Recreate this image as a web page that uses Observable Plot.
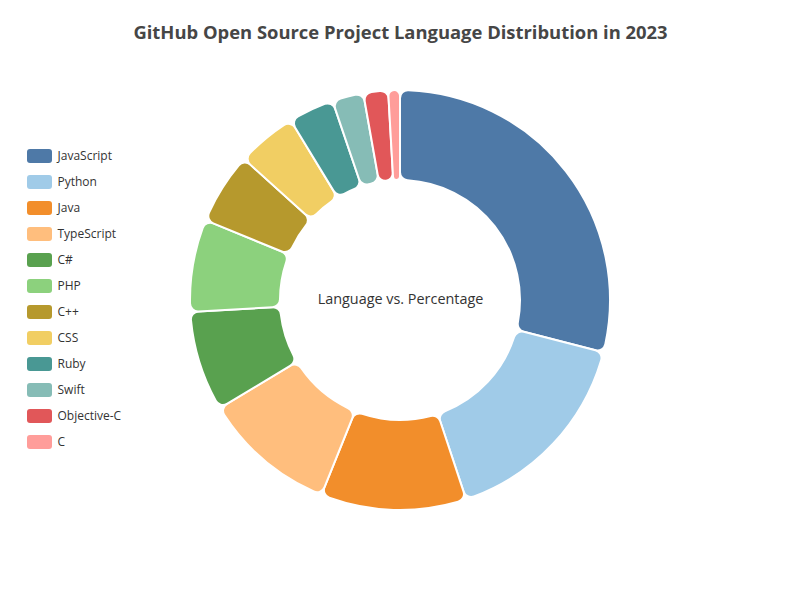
<!DOCTYPE html>
<html>
<head>
<meta charset="utf-8">
<script src="https://cdn.jsdelivr.net/npm/d3@7"></script>
<script src="https://cdn.jsdelivr.net/npm/@observablehq/plot@0.6"></script>
<style>
  html, body { margin: 0; padding: 0; background: #fff; }
  #chart svg { display: block; font-family: "Open Sans", "Noto Sans", sans-serif; }
</style>
</head>
<body>
<div id="chart"></div>
<script>
const title = "GitHub Open Source Project Language Distribution in 2023";
const centerLabel = "Language vs. Percentage";
const languages = ["JavaScript", "Python", "Java", "TypeScript", "C#", "PHP", "C++", "CSS", "Ruby", "Swift", "Objective-C", "C"];
const percentages = [29.0, 15.9, 11.2, 10.3, 7.7, 7.1, 5.5, 4.6, 3.5, 2.4, 1.9, 0.9];
const colors = ["#4e79a7", "#a0cbe8", "#f28e2b", "#ffbe7d", "#59a14f", "#8cd17d", "#b6992d", "#f1ce63", "#499894", "#86bcb6", "#e15759", "#ff9d9a"];

const data = languages.map((language, i) => ({language, value: percentages[i], i}));

const cx = 400, cy = 300, innerR = 120, outerR = 210;

function donut(index, scales, values, dimensions) {
  const px = scales.x(cx), py = scales.y(cy);
  const pie = d3.pie().sort(null).value(d => d.value).startAngle(0).endAngle(2 * Math.PI);
  const arc = d3.arc().innerRadius(innerR).outerRadius(outerR).cornerRadius(8);
  const g = d3.create("svg:g").attr("transform", `translate(${px},${py})`);
  g.selectAll("path")
    .data(pie(data))
    .join("path")
    .attr("d", arc)
    .attr("fill", d => scales.color(d.data.language))
    .attr("stroke", "#fff")
    .attr("stroke-width", 2)
    .attr("stroke-linejoin", "round");
  return g.node();
}

const chart = Plot.plot({
  width: 800,
  height: 600,
  margin: 0,
  x: {domain: [0, 800], range: [0, 800], axis: null},
  y: {domain: [0, 600], range: [0, 600], axis: null},
  color: {domain: languages, range: colors},
  marks: [
    donut,
    Plot.rect(data, {
      x1: () => 27, x2: () => 52,
      y1: d => 149 + 26 * d.i, y2: d => 163 + 26 * d.i,
      fill: "language", rx: 3
    }),
    Plot.text(data, {
      x: () => 57, y: d => 156 + 26 * d.i,
      text: "language", textAnchor: "start", fill: "#333", fontSize: 12
    }),
    Plot.text([title], {
      x: () => 400, y: () => 33, text: d => d,
      fontSize: 18.4, fontWeight: "bold", fill: "#464646"
    }),
    Plot.text([centerLabel], {
      x: () => cx, y: () => cy - 1, text: d => d,
      fontSize: 14.4, fill: "#333"
    })
  ]
});
document.getElementById("chart").appendChild(chart);
</script>
</body>
</html>
